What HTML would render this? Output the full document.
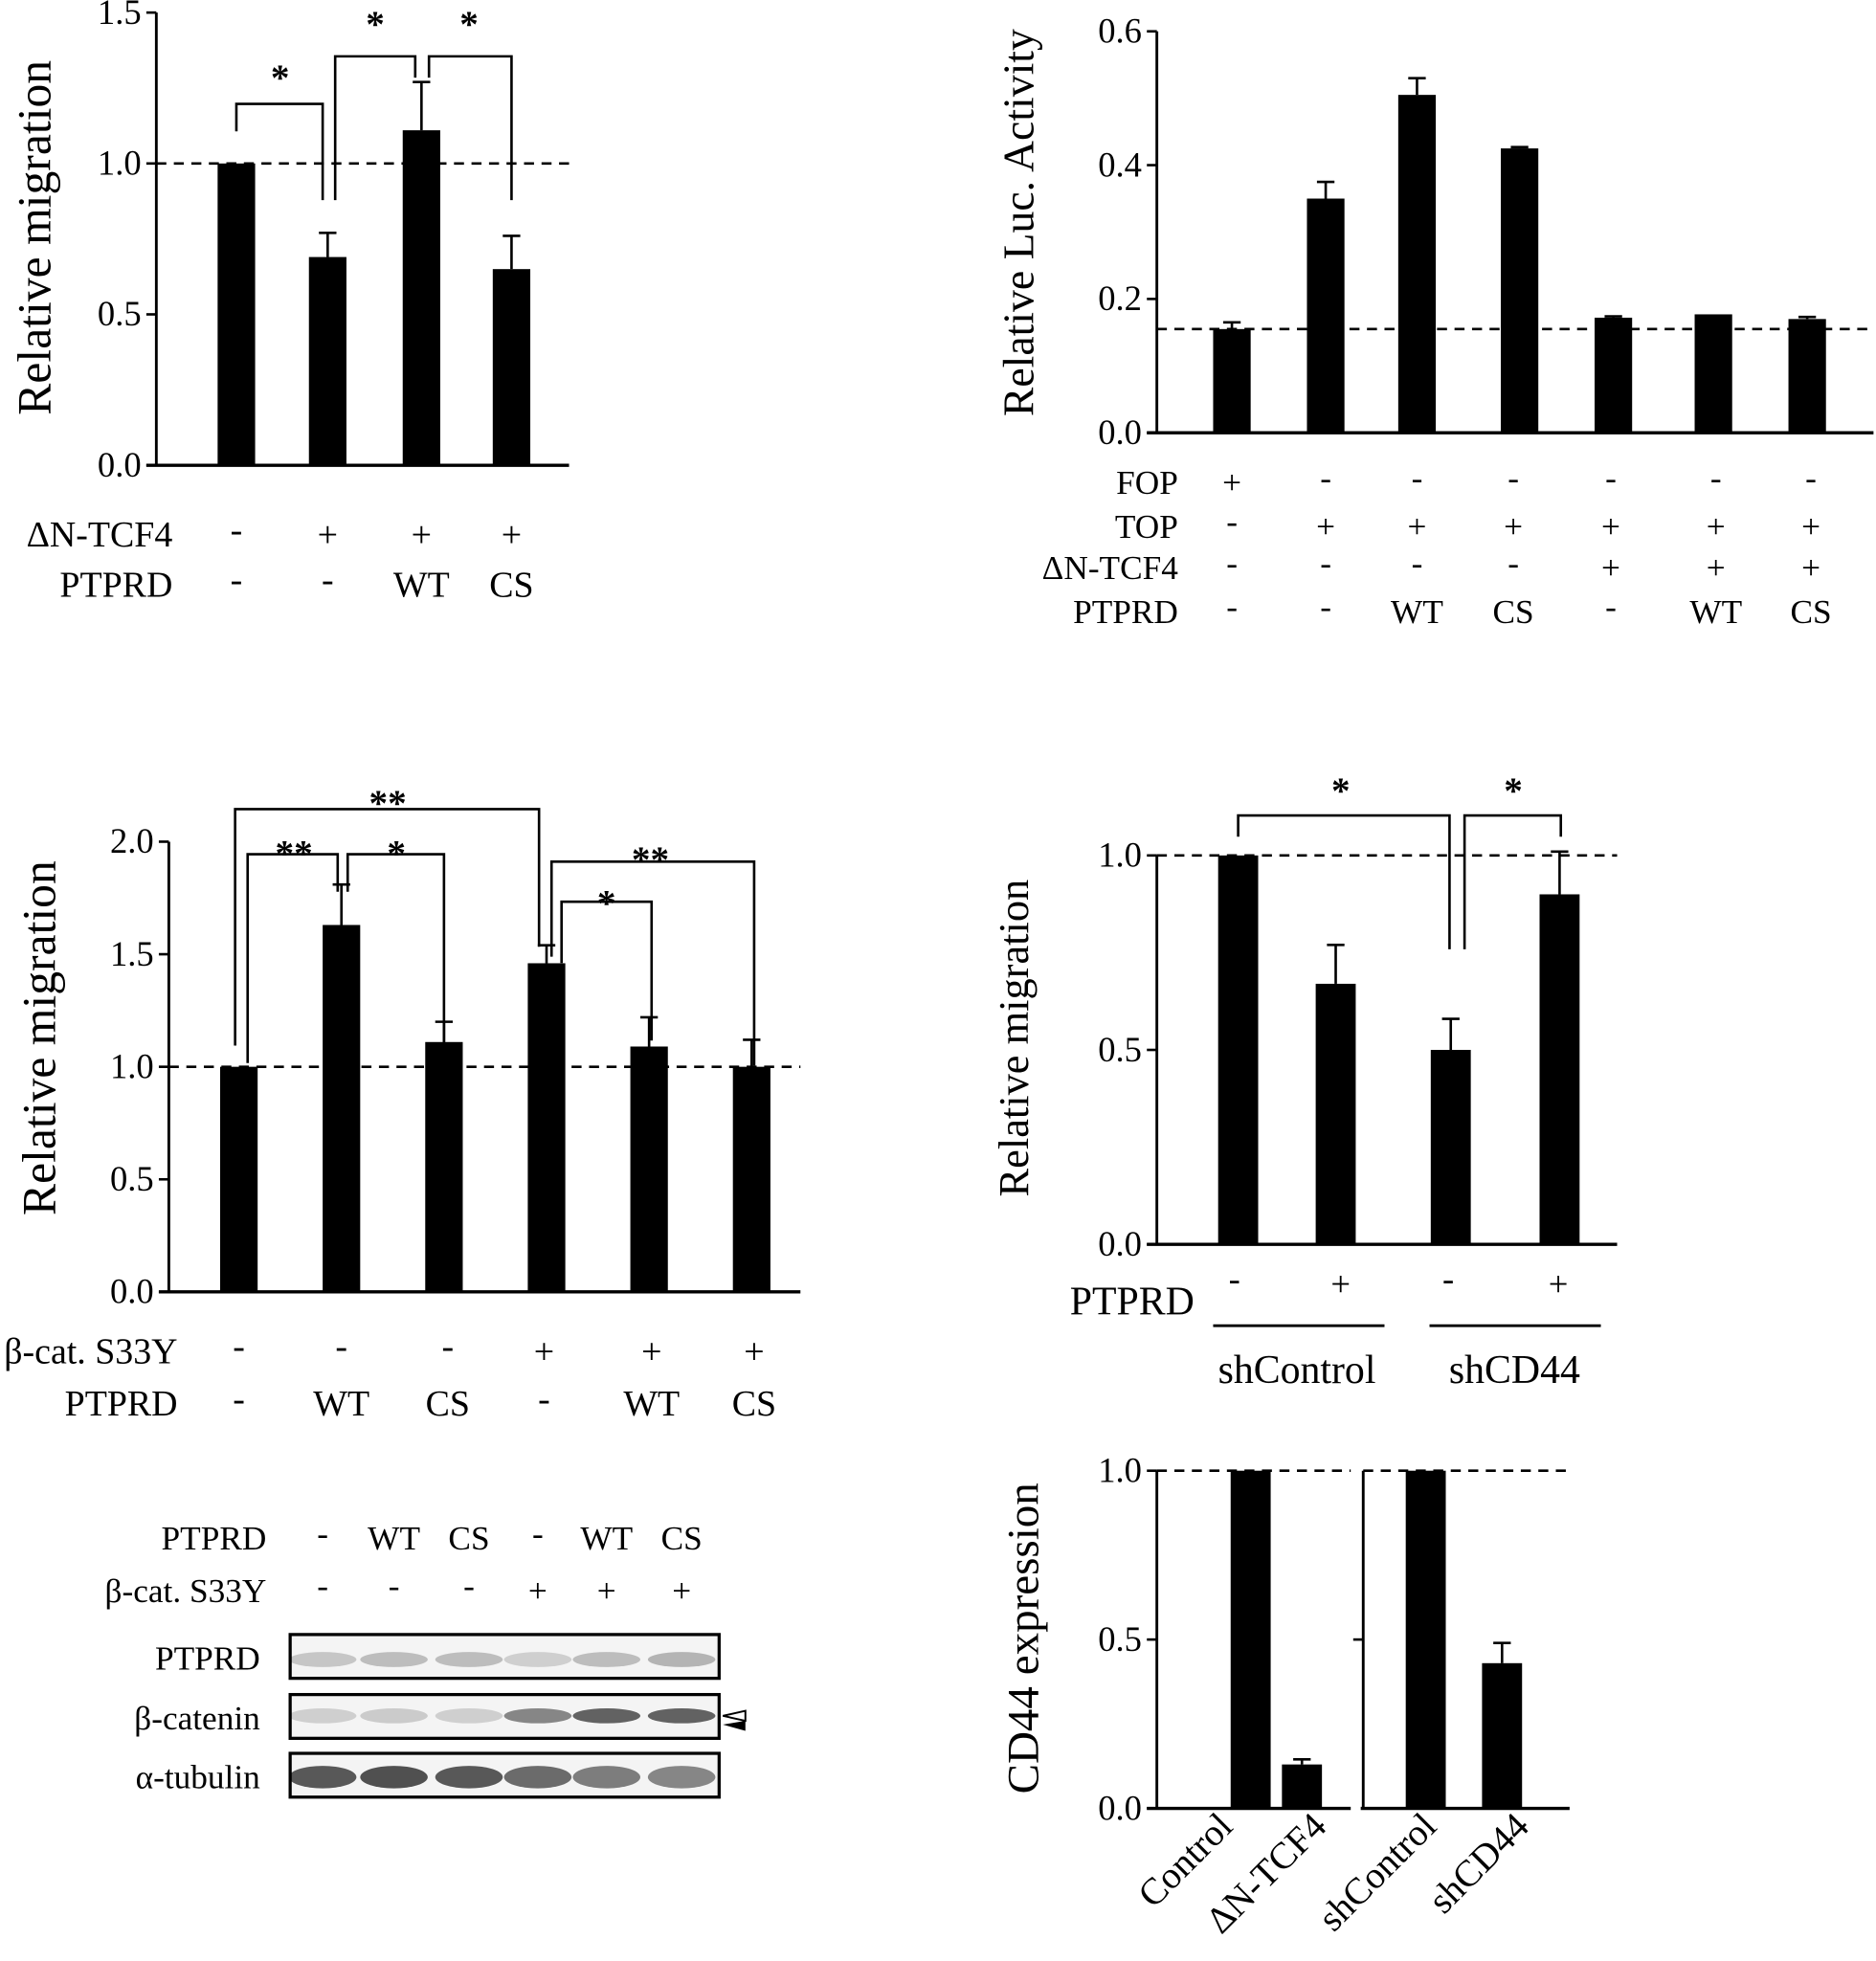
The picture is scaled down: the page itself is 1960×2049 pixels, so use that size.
<!DOCTYPE html>
<html><head><meta charset="utf-8"><style>
html,body{margin:0;padding:0;background:#fff}
svg{display:block}
text{font-family:"Liberation Serif",serif;fill:#000}
</style></head><body>
<svg id="fig" width="1960" height="2049" viewBox="0 0 1500 1568" xmlns="http://www.w3.org/2000/svg"></svg>
<script>
// ---- Panel A data ----
const aCats = ["1","2","3","4"];
const aVals = [1.0, 0.69, 1.11, 0.65];
const aErr  = [0, 0.08, 0.16, 0.11];
const aTicks = [0.0, 0.5, 1.0, 1.5];
// ---- Panel B data ----
const bCats = ["1","2","3","4","5","6","7"];
const bVals = [0.155, 0.35, 0.505, 0.425, 0.172, 0.177, 0.170];
const bErr  = [0.010, 0.025, 0.025, 0.002, 0.002, 0.000, 0.003];
const bTicks = [0.0, 0.2, 0.4, 0.6];
// ---- Panel C data ----
const cCats = ["1","2","3","4","5","6"];
const cVals = [1.0, 1.63, 1.11, 1.46, 1.09, 1.0];
const cErr  = [0, 0.18, 0.09, 0.08, 0.13, 0.12];
const cTicks = [0.0, 0.5, 1.0, 1.5, 2.0];
// ---- Panel D data ----
const dCats = ["1","2","3","4"];
const dVals = [1.0, 0.67, 0.50, 0.90];
const dErr  = [0, 0.10, 0.08, 0.11];
const dTicks = [0.0, 0.5, 1.0];
// ---- Panel F data ----
const fCats = ["Control","ΔN-TCF4","shControl","shCD44"];
const fVals = [1.0, 0.13, 1.0, 0.43];
const fErr  = [0, 0.015, 0, 0.06];
const fTicks = [0.0, 0.5, 1.0];

const NS="http://www.w3.org/2000/svg";
const svg=document.getElementById('fig');
function mk(tag,attrs,parent){const e=document.createElementNS(NS,tag);for(const k in attrs)e.setAttribute(k,attrs[k]);(parent||svg).appendChild(e);return e;}
function line(x1,y1,x2,y2,w,p,dash){const l=mk('line',{x1,y1,x2,y2,stroke:'#000','stroke-width':w||2},p);if(dash)l.setAttribute('stroke-dasharray',dash);return l;}
function txt(x,y,s,size,anchor,p,tr){const t=mk('text',{x,y,'font-size':size,'text-anchor':anchor||'middle'},p);if(tr)t.setAttribute('transform',tr);t.textContent=s;return t;}

function chart(name,o){
  const g=mk('g',{});
  
  
  const yS=v=>o.y0-(v-o.vmin)/(o.vmax-o.vmin)*(o.y0-o.y1);
  const ax=line(o.ax,o.y0,o.ax,yS(o.ticks[o.ticks.length-1]),2.2,g);
  
  
  const xa=line(o.ax-8,o.y0,o.xEnd,o.y0,2.6,g);
  
  
  o.ticks.forEach(t=>{
    line(o.ax-8,yS(t),o.ax,yS(t),2,g);
    const tl=txt(o.ax-12,yS(t)+9,t.toFixed(1),o.tickSize||28,'end',g);
    
    
  });
  o.vals.forEach((v,i)=>{
    const cx=o.xs[i], w=o.bw;
    const r=mk('rect',{x:cx-w/2,y:yS(v),width:w,height:o.y0-yS(v),fill:'#000'},g);
    
    
    if(o.err[i]>0){
      const e=line(cx,yS(v),cx,yS(v+o.err[i]),2,g);
      
      
      line(cx-7,yS(v+o.err[i]),cx+7,yS(v+o.err[i]),2,g);
    }
  });
  if(o.dash!==undefined){
    (o.dashSegs||[[o.ax,o.xEnd]]).forEach(s=>{
      const d=line(s[0],yS(o.dash),s[1],yS(o.dash),2,g,'8,6');
      
      
    });
  }
  const yl=txt(0,0,o.ylabel,o.ylSize,'middle',g,`translate(${o.ylx},${o.yly}) rotate(-90)`);
  
  
  return {g,yS};
}
function bracket(g,x1,b1,x2,b2,top,stars,sx,sy){
  mk('polyline',{points:`${x1},${b1} ${x1},${top} ${x2},${top} ${x2},${b2}`,fill:'none',stroke:'#000','stroke-width':2},g);
  const s=txt(sx,sy,stars,30,'middle',g);s.setAttribute('font-family','Liberation Sans, sans-serif');s.setAttribute('font-weight','bold');
}
function rows(g,labels,rowsVals,ys,xs,labelX,size){
  labels.forEach((l,r)=>{
    const t=txt(labelX,ys[r],l,size,'end',g);
    
    
    rowsVals[r].forEach((v,i)=>txt(xs[i],ys[r]-(v==='-'?4:0),v,size,'middle',g));
  });
}

// Panel A
const A=chart('panel-a-migration',{ax:125,y0:372,y1:10,vmin:0,vmax:1.5,xEnd:455,ticks:aTicks,vals:aVals,err:aErr,xs:[189,262,337,409],bw:30,dash:1.0,ylabel:'Relative migration',ylSize:38,ylx:40,yly:190});
bracket(A.g,189,105,258,160,83,'*',224,72);
bracket(A.g,268,160,332,62,45,'*',300,29);
bracket(A.g,343,62,409,160,45,'*',375,29);
rows(A.g,['ΔN-TCF4','PTPRD'],[['-','+','+','+'],['-','-','WT','CS']],[437,477],[189,262,337,409],138,29);

// Panel B
const B=chart('panel-b-luciferase',{ax:925,y0:346,y1:25,vmin:0,vmax:0.6,xEnd:1498,ticks:bTicks,vals:bVals,err:bErr,xs:[985,1060,1133,1215,1290,1370,1445],bw:30,dash:0.155,ylabel:'Relative Luc. Activity',ylSize:35,ylx:826,yly:178});
rows(B.g,['FOP','TOP','ΔN-TCF4','PTPRD'],[['+','-','-','-','-','-','-'],['-','+','+','+','+','+','+'],['-','-','-','-','+','+','+'],['-','-','WT','CS','-','WT','CS']],[395,430,463,498],[985,1060,1133,1210,1288,1372,1448],942,27);

// Panel C
const C=chart('panel-c-migration',{ax:135,y0:1033,y1:673,vmin:0,vmax:2.0,xEnd:640,ticks:cTicks,vals:cVals,err:cErr,xs:[191,273,355,437,519,601],bw:30,dash:1.0,ylabel:'Relative migration',ylSize:38,ylx:44,yly:830});
bracket(C.g,188,836,431,757,647,'**',310,652);
bracket(C.g,198,850,270,713,683,'**',235,692);
bracket(C.g,278,713,355,835,683,'*',317,692);
bracket(C.g,441,765,603,852,689,'**',520,697);
bracket(C.g,449,770,521,832,721,'*',485,732);
rows(C.g,['β-cat. S33Y','PTPRD'],[['-','-','-','+','+','+'],['-','WT','CS','-','WT','CS']],[1090,1132],[191,273,358,435,521,603],142,29);

// Panel D
const D=chart('panel-d-migration',{ax:925,y0:995,y1:684,vmin:0,vmax:1.0,xEnd:1293,ticks:dTicks,vals:dVals,err:dErr,xs:[990,1068,1160,1247],bw:32,dash:1.0,ylabel:'Relative migration',ylSize:34,ylx:822,yly:830});
bracket(D.g,990,669,1159,759,652,'*',1072,642);
bracket(D.g,1171,759,1248,669,652,'*',1210,642);
txt(955,1051,'PTPRD',32,'end',D.g);
['-','+','-','+'].forEach((v,i)=>txt([987,1072,1158,1246][i],1036-(v==='-'?4:0),v,28,'middle',D.g));
line(970,1060,1107,1060,2.2,D.g);line(1143,1060,1280,1060,2.2,D.g);
txt(1037,1106,'shControl',32,'middle',D.g);txt(1211,1106,'shCD44',32,'middle',D.g);

// Western blot
const W=mk('g',{});


rows(W,['PTPRD','β-cat. S33Y'],[['-','WT','CS','-','WT','CS'],['-','-','-','+','+','+']],[1239,1281],[258,315,375,430,485,545],213,27);
const blots=[['PTPRD',1307,[0.25,0.3,0.3,0.2,0.3,0.35],1327],['β-catenin',1355,[0.2,0.22,0.2,0.6,0.8,0.8],1372],['α-tubulin',1402,[0.85,0.9,0.85,0.75,0.65,0.6],1421]];
blots.forEach(b=>{
  const bg=mk('g',{},W);
  
  
  mk('rect',{x:232,y:b[1],width:343,height:35,fill:'#f4f4f4',stroke:'#000','stroke-width':2.5},bg);
  b[2].forEach((a,i)=>{
    mk('ellipse',{cx:[258,315,375,430,485,545][i],cy:b[3],rx:27,ry:b[0]==='α-tubulin'?9:6,fill:'#000','fill-opacity':a*0.75},bg);
  });
  txt(208,b[1]+28,b[0],27,'end',bg);
});
mk('polygon',{points:'578,1372 596,1368 596,1376',fill:'none',stroke:'#000','stroke-width':1.5},W);
mk('polygon',{points:'578,1379 596,1376 596,1384',fill:'#000'},W);

// Panel F
const F=chart('panel-f-cd44',{ax:925,y0:1446,y1:1176,vmin:0,vmax:1.0,xEnd:1080,ticks:fTicks,vals:fVals,err:fErr,xs:[1000,1041,1140,1201],bw:32,dash:1.0,dashSegs:[[925,1080],[1090,1255]],ylabel:'CD44 expression',ylSize:36,ylx:830,yly:1310});
line(1090,1176,1090,1446,2.2,F.g);line(1088,1446,1255,1446,2.6,F.g);line(1082,F.yS(0.5),1090,F.yS(0.5),2,F.g);
[[987,1462],[1062,1462],[1150,1462],[1224,1462]].forEach((p,i)=>{
  const t=txt(p[0],p[1],fCats[i],30,'end',F.g,`rotate(-45 ${p[0]} ${p[1]})`);
  
  
});
</script>
</body></html>
